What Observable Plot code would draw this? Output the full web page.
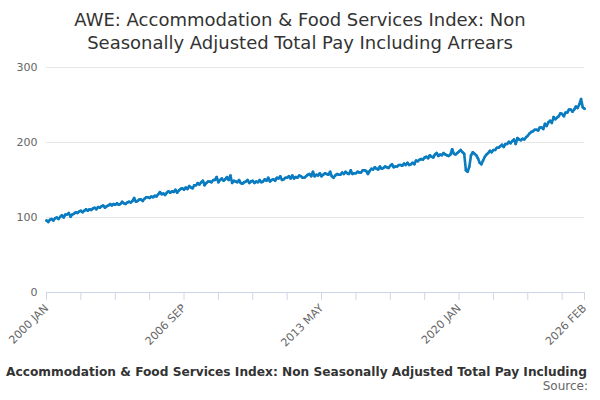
<!DOCTYPE html>
<html><head><meta charset="utf-8">
<script src="https://cdn.jsdelivr.net/npm/d3@7"></script>
<script src="https://cdn.jsdelivr.net/npm/@observablehq/plot@0.6"></script>
<style>
body{margin:0;font-family:"DejaVu Sans",sans-serif;background:#fff;width:600px;}
#title{text-align:center;font-size:18px;color:#333;line-height:23px;padding-top:8px;height:47px;}
#cap{font-weight:bold;font-size:12.2px;color:#333;white-space:nowrap;padding-left:6px;width:592px;margin-top:20px;}
#src{text-align:right;font-size:12px;color:#666;padding-right:12px;}
</style></head><body>
<div id="title">AWE: Accommodation &amp; Food Services Index: Non<br>Seasonally Adjusted Total Pay Including Arrears</div>
<div id="chart"></div>
<div id="cap">Accommodation &amp; Food Services Index: Non Seasonally Adjusted Total Pay Including</div>
<div id="src">Source:</div>
<script>
const startYear = 2000;
const months = ["JAN","FEB","MAR","APR","MAY","JUN","JUL","AUG","SEP","OCT","NOV","DEC"];
const values = [
 96,94,97,98,96,99,100,98,101,103,100,104,
 104,106,101,104,105,107,106,108,109,107,109,111,
 109,111,110,112,113,111,114,113,115,116,113,115,
 116,118,116,118,117,119,117,118,121,119,118,120,
 121,120,122,126,121,122,124,124,122,125,127,127,
 126,128,127,129,128,131,134,131,132,130,133,135,
 133,135,134,137,133,136,138,139,137,140,138,142,
 140,139,143,143,146,144,147,149,143,146,148,148,
 147,150,150,154,147,150,152,149,151,154,150,156,
 146,149,148,147,150,146,145,147,148,150,146,148,
 149,146,148,147,150,147,148,151,149,153,148,150,
 151,149,153,152,155,150,151,153,153,155,152,156,
 152,154,153,156,155,153,153,155,157,158,155,161,
 155,157,156,159,155,157,159,158,157,161,155,153,
 156,158,157,157,160,158,161,159,158,163,158,159,
 159,161,160,160,163,163,162,158,162,165,164,167,
 165,164,168,165,166,168,167,166,169,171,167,168,
 168,170,170,169,172,170,173,170,171,173,171,176,
 175,177,178,177,180,181,179,183,181,180,184,186,
 182,184,183,186,184,183,182,184,191,185,184,186,
 188,190,187,185,163,161,168,183,187,185,183,179,
 173,171,176,181,184,186,189,187,190,190,193,193,
 195,197,194,198,198,201,199,202,204,198,206,204,
 203,205,204,207,209,212,214,215,217,217,216,220,
 220,218,225,222,227,229,226,234,231,233,235,239,
 238,235,240,240,244,244,241,244,248,246,251,258,
 247,245
];
const data = values.map((v,i)=>({i, v}));
const last = values.length-1;
const minorTicks = d3.range(0, last, 20).concat([last]);
const labelTicks = [0,80,160,240,last];
const lab = i => `${startYear+Math.floor(i/12)} ${months[i%12]}`;
const plot = Plot.plot({
  width:600, height:290, marginTop:12, marginBottom:53, marginLeft:46, marginRight:16,
  style:{fontFamily:"DejaVu Sans, sans-serif", fontSize:"11px", color:"#666", overflow:"visible"},
  x:{domain:[0,last], ticks:minorTicks, tickFormat:i=>labelTicks.includes(i)?lab(i):"", tickRotate:-45, tickSize:8, label:null},
  y:{domain:[0,300], ticks:[0,100,200,300], label:null, tickSize:0},
  marks:[
    Plot.gridY([100,200,300],{stroke:"#e6e6e6", strokeOpacity:1}),
    Plot.ruleY([0],{stroke:"#ccd6eb"}),
    Plot.lineY(data,{x:"i", y:"v", stroke:"#0a7cc1", strokeWidth:2.6}),
    Plot.dot(data,{x:"i", y:"v", r:1.3, fill:"#0a7cc1"})
  ]
});
plot.querySelectorAll('[aria-label="x-axis tick"] path, [aria-label="x-axis tick"] line').forEach(e=>e.setAttribute("stroke","#ccd6eb"));
document.getElementById("chart").appendChild(plot);
</script></body></html>
